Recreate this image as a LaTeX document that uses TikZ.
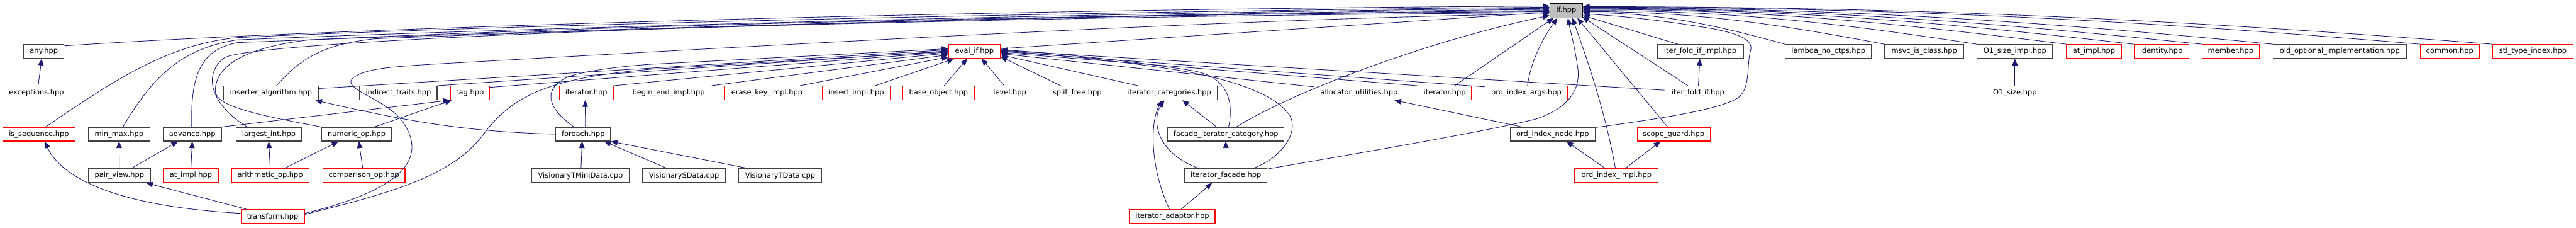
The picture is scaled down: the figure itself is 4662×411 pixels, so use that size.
\documentclass[tikz,border=0pt]{standalone}
\usepackage{fontspec}
\setmainfont{DejaVu Sans}
\usetikzlibrary{arrows.meta,calc}
\definecolor{edgec}{RGB}{25,25,112}
\definecolor{boxg}{RGB}{64,64,64}
\definecolor{boxr}{RGB}{255,0,0}
\definecolor{rootf}{RGB}{191,191,191}
\tikzset{
 nd/.style={draw, line width=1.3pt, fill=white, inner sep=0pt, minimum height=25pt, font=\fontsize{13}{15}\selectfont, text=black},
 gb/.style={nd, draw=boxg},
 rb/.style={nd, draw=boxr},
 rootbox/.style={nd, draw=black, fill=rootf, minimum height=26pt},
 e/.style={draw=edgec, line width=1pt, -{Triangle[length=12pt,width=10pt]}},
}
\begin{document}
\begin{tikzpicture}[x=1pt,y=-1pt]
\useasboundingbox (0,0) rectangle (4662,411);
% row 0
\node[rootbox, minimum width=59pt] (ifh) at (2834.5,19) {if.hpp};
% row 1
\node[gb, minimum width=73pt] (any) at (79.5,93) {any.hpp};
\node[rb, minimum width=93pt] (evalif) at (1763.5,93) {eval\_if.hpp};
\node[gb, minimum width=156pt] (ifimpl) at (3077,93) {iter\_fold\_if\_impl.hpp};
\node[gb, minimum width=156pt] (lambda) at (3309,93) {lambda\_no\_ctps.hpp};
\node[gb, minimum width=143pt] (msvc) at (3482.5,93) {msvc\_is\_class.hpp};
\node[gb, minimum width=137pt] (osimpl) at (3646.5,93) {O1\_size\_impl.hpp};
\node[rb, minimum width=99pt] (atimplb) at (3789.5,93) {at\_impl.hpp};
\node[rb, minimum width=99pt] (identity) at (3911.5,93) {identity.hpp};
\node[rb, minimum width=104pt] (member) at (4037,93) {member.hpp};
\node[gb, minimum width=241pt] (oldopt) at (4234.5,93) {old\_optional\_implementation.hpp};
\node[rb, minimum width=107pt] (common) at (4433.5,93) {common.hpp};
\node[rb, minimum width=146pt] (stl) at (4584,93) {stl\_type\_index.hpp};
% row 2
\node[rb, minimum width=122pt] (exceptions) at (66,168) {exceptions.hpp};
\node[gb, minimum width=171pt] (inserter) at (490.5,168) {inserter\_algorithm.hpp};
\node[gb, minimum width=140pt] (indirect) at (721,168) {indirect\_traits.hpp};
\node[rb, minimum width=71pt] (tag) at (850.5,168) {tag.hpp};
\node[rb, minimum width=98pt] (iterA) at (1061,168) {iterator.hpp};
\node[rb, minimum width=154pt] (beginend) at (1210,168) {begin\_end\_impl.hpp};
\node[rb, minimum width=152pt] (erasekey) at (1388,168) {erase\_key\_impl.hpp};
\node[rb, minimum width=123pt] (insertimpl) at (1549.5,168) {insert\_impl.hpp};
\node[rb, minimum width=129pt] (baseobj) at (1698.5,168) {base\_object.hpp};
\node[rb, minimum width=83pt] (level) at (1827.5,168) {level.hpp};
\node[rb, minimum width=111pt] (splitfree) at (1949.5,168) {split\_free.hpp};
\node[gb, minimum width=174pt] (itercat) at (2116,168) {iterator\_categories.hpp};
\node[rb, minimum width=163pt] (alloc) at (2459.5,168) {allocator\_utilities.hpp};
\node[rb, minimum width=97pt] (iterB) at (2614.5,168) {iterator.hpp};
\node[rb, minimum width=149pt] (ordargs) at (2762.5,168) {ord\_index\_args.hpp};
\node[rb, minimum width=120pt] (iterfoldif) at (3073,168) {iter\_fold\_if.hpp};
\node[rb, minimum width=101pt] (osize) at (3646.5,168) {O1\_size.hpp};
% row 3
\node[rb, minimum width=131pt] (isseq) at (70.5,242.5) {is\_sequence.hpp};
\node[gb, minimum width=111pt] (minmax) at (215.5,242.5) {min\_max.hpp};
\node[gb, minimum width=106pt] (advance) at (348,242.5) {advance.hpp};
\node[gb, minimum width=119pt] (largest) at (486.5,242.5) {largest\_int.hpp};
\node[gb, minimum width=127pt] (numop) at (645.5,242.5) {numeric\_op.hpp};
\node[gb, minimum width=99pt] (foreach) at (1055.5,242.5) {foreach.hpp};
\node[gb, minimum width=211pt] (facadecat) at (2218.5,242.5) {facade\_iterator\_category.hpp};
\node[gb, minimum width=154pt] (ordnode) at (2810,242.5) {ord\_index\_node.hpp};
\node[rb, minimum width=132pt] (scope) at (3029,242.5) {scope\_guard.hpp};
% row 4
\node[gb, minimum width=112pt] (pairview) at (216,317.5) {pair\_view.hpp};
\node[rb, minimum width=99pt] (atimpla) at (345.5,317.5) {at\_impl.hpp};
\node[rb, minimum width=140pt] (arith) at (489,317.5) {arithmetic\_op.hpp};
\node[rb, minimum width=149pt] (compop) at (658.5,317.5) {comparison\_op.hpp};
\node[gb, minimum width=177pt] (vtmini) at (1050.5,317.5) {VisionaryTMiniData.cpp};
\node[gb, minimum width=150pt] (vsdata) at (1238,317.5) {VisionarySData.cpp};
\node[gb, minimum width=150pt] (vtdata) at (1412,317.5) {VisionaryTData.cpp};
\node[gb, minimum width=149pt] (iterfacade) at (2218.5,317.5) {iterator\_facade.hpp};
\node[rb, minimum width=151pt] (ordimpl) at (2925.5,317.5) {ord\_index\_impl.hpp};
% row 5
\node[rb, minimum width=115pt] (transform) at (493.5,391.5) {transform.hpp};
\node[rb, minimum width=155pt] (iteradaptor) at (2121.5,391.5) {iterator\_adaptor.hpp};

% ---------- left cluster ----------
\draw[e] ($(exceptions.north)+(3,0)$) -- ($(any.south)+(-4,0)$);
\draw[e] (pairview.north) -- (minmax.south);
\draw[e] ($(pairview.north east)+(-35,0)$) -- ($(advance.south)+(-26,0)$);
\draw[e] (atimpla.north) -- (advance.south);
\draw[e] ($(transform.west)+(0,-6)$) .. controls (200,372) and (110,318) .. ($(isseq.south)+(10,0)$);
\draw[e] ($(transform.north west)+(12,0)$) -- ($(pairview.south east)+(-8,0)$);
\draw[e] (arith.north) -- (largest.south);
\draw[e] ($(arith.north east)+(-45,0)$) -- ($(numop.south)+(-33,0)$);
\draw[e] ($(compop.north)+(-2,0)$) -- ($(numop.south)+(4,0)$);
\draw[e] (advance.north east) -- (tag.south west);
\draw[e] ($(numop.north east)+(-32,0)$) -- ($(tag.south west)+(3,0)$);

% ---------- into if.hpp from the left ----------
\draw[e] ($(any.north east)+(0,3)$) .. controls (600,50) and (1800,16) .. ($(ifh.west)+(0,-8)$);
\draw[e] ($(isseq.north)+(12,0)$) .. controls (200,150) and (300,80) .. (430,68) .. controls (900,45) and (2000,20) .. ($(ifh.west)+(0,-6)$);
\draw[e] ($(minmax.north)+(7,0)$) .. controls (270,150) and (320,88) .. (430,72) .. controls (900,52) and (2000,22) .. ($(ifh.west)+(0,-4)$);
\draw[e] ($(advance.north)+(-1,0)$) .. controls (345,140) and (360,90) .. (430,77) .. controls (900,58) and (2000,24) .. ($(ifh.west)+(0,-2)$);
\draw[e] ($(largest.north west)+(21,0)$) .. controls (390,195) and (362,140) .. (405,105) .. controls (450,72) and (1500,32) .. ($(ifh.west)+(0,0)$);
\draw[e] (numop.north west) .. controls (420,200) and (385,185) .. (390,158) .. controls (395,115) and (450,85) .. (560,72) .. controls (1200,42) and (2000,26) .. ($(ifh.west)+(0,2)$);
\draw[e] ($(inserter.north)+(10,0)$) .. controls (540,110) and (580,80) .. (680,70) .. controls (1300,45) and (2100,27) .. ($(ifh.west)+(0,4)$);
\draw[e] ($(transform.east)+(0,-6)$) .. controls (740,340) and (775,280) .. (725,215) .. controls (690,175) and (615,160) .. (640,140) .. controls (665,122) and (720,120) .. (800,115) .. controls (1600,70) and (2300,32) .. ($(ifh.west)+(0,6)$);
\draw[e] ($(evalif.east)+(0,-5)$) -- ($(ifh.west)+(0,3)$);

% ---------- into eval_if ----------
\draw[e] ($(inserter.east)+(0,-8)$) -- ($(evalif.west)+(0,-3)$);
\draw[e] (indirect.north east) -- ($(evalif.west)+(0,-1)$);
\draw[e] ($(tag.north east)+(0,3)$) -- ($(evalif.west)+(0,1)$);
\draw[e] ($(transform.east)+(0,-4)$) .. controls (700,350) and (820,320) .. (877,240) .. controls (930,170) and (1000,140) .. (1180,125) -- ($(evalif.west)+(0,0)$);
\draw[e] ($(foreach.north)+(-17,0)$) .. controls (990,195) and (980,160) .. (1030,138) .. controls (1060,128) and (1120,120) .. (1180,116) -- ($(evalif.west)+(0,-5)$);
\draw[e] (iterA.north east) -- ($(evalif.west)+(0,3)$);
\draw[e] (beginend.north east) -- ($(evalif.west)+(0,6)$);
\draw[e] ($(erasekey.north east)+(-17,0)$) -- ($(evalif.west)+(0,10)$);
\draw[e] ($(insertimpl.north east)+(-28,0)$) -- ($(evalif.south west)+(10,0)$);
\draw[e] ($(baseobj.north)+(10,0)$) -- ($(evalif.south)+(-13,0)$);
\draw[e] ($(level.north)+(-10,0)$) -- ($(evalif.south)+(13,0)$);
\draw[e] ($(splitfree.north)+(-30,0)$) -- ($(evalif.south east)+(0,-4)$);
\draw[e] ($(itercat.north west)+(31,0)$) -- ($(evalif.east)+(0,6)$);
\draw[e] ($(alloc.north west)+(0,2)$) -- ($(evalif.east)+(0,4)$);
\draw[e] (iterB.north west) -- ($(evalif.east)+(0,2)$);
\draw[e] ($(ordargs.north west)+(0,2)$) -- ($(evalif.east)+(0,0)$);
\draw[e] ($(iterfoldif.west)+(0,-5)$) -- ($(evalif.east)+(0,-2)$);
\draw[e] ($(facadecat.north)+(5,0)$) .. controls (2235,175) and (2215,138) .. (2160,128) .. controls (2050,110) and (1900,95) .. ($(evalif.east)+(0,-3)$);
\draw[e] ($(iterfacade.north east)+(-26,0)$) .. controls (2320,285) and (2350,240) .. (2335,210) .. controls (2310,170) and (2230,145) .. (2150,130) .. controls (2050,112) and (1900,98) .. ($(evalif.east)+(0,-1)$);

% ---------- foreach group ----------
\draw[e] ($(foreach.north)+(4,0)$) -- ($(iterA.south)+(-2,0)$);
\draw[e] (foreach.west) .. controls (860,238) and (760,225) .. ($(inserter.south east)+(-6,0)$);
\draw[e] ($(vtmini.north)+(1,0)$) -- ($(foreach.south)+(-2,0)$);
\draw[e] ($(vsdata.north west)+(45,0)$) -- ($(foreach.south east)+(-12,0)$);
\draw[e] ($(vtdata.north west)+(18,0)$) -- (foreach.south east);

% ---------- iterator group ----------
\draw[e] ($(facadecat.north)+(-17,0)$) -- ($(itercat.south)+(24,0)$);
\draw[e] ($(iterfacade.north west)+(26,0)$) .. controls (2090,275) and (2085,215) .. ($(itercat.south)+(-9,0)$);
\draw[e] ($(iteradaptor.north)+(-5,0)$) .. controls (2080,300) and (2082,220) .. ($(itercat.south)+(-13,0)$);
\draw[e] (iterfacade.north) -- (facadecat.south);
\draw[e] ($(iteradaptor.north)+(16,0)$) -- ($(iterfacade.south)+(-25,0)$);
\draw[e] ($(facadecat.north)+(19,0)$) .. controls (2350,160) and (2600,70) .. ($(ifh.west)+(0,9)$);
\draw[e] ($(iterfacade.north east)+(0,1)$) .. controls (2500,270) and (2700,235) .. (2780,215) .. controls (2840,195) and (2862,160) .. (2855,120) .. controls (2850,85) and (2843,60) .. ($(ifh.south)+(3,0)$);

% ---------- into if.hpp from below ----------
\draw[e] ($(iterB.north east)+(-31,0)$) -- ($(ifh.south west)+(7,0)$);
\draw[e] ($(ordargs.north)+(2,0)$) .. controls (2770,110) and (2795,65) .. ($(ifh.south west)+(14,0)$);
\draw[e] ($(ordimpl.north)+(-2,0)$) .. controls (2905,200) and (2870,100) .. ($(ifh.south)+(11,0)$);
\draw[e] ($(scope.north)+(-11,0)$) -- ($(ifh.south east)+(-10,0)$);
\draw[e] ($(iterfoldif.north)+(-18,0)$) -- ($(ifh.south east)+(-1,-2)$);
\draw[e] (iterfoldif) -- (ifimpl);
\draw[e] ($(ifimpl.north west)+(38,0)$) -- ($(ifh.east)+(0,9)$);
\draw[e] ($(ordnode.north east)+(0,1)$) .. controls (3000,215) and (3100,200) .. (3140,180) .. controls (3170,165) and (3160,120) .. (3168,92) .. controls (3175,70) and (3140,60) .. (3100,52) .. controls (3000,35) and (2920,28) .. ($(ifh.east)+(0,6)$);
\draw[e] ($(ordnode.north west)+(22,0)$) -- ($(alloc.south east)+(-18,0)$);
\draw[e] ($(ordimpl.north west)+(56,0)$) -- ($(ordnode.south)+(25,0)$);
\draw[e] ($(ordimpl.north west)+(92,0)$) -- ($(scope.south)+(-24,0)$);

% ---------- into if.hpp from the right ----------
\draw[e] (lambda.north west) .. controls +(-110,-30) and +(150,0) .. ($(ifh.east)+(0,4)$);
\draw[e] (msvc.north west) .. controls +(-160,-30) and +(220,0) .. ($(ifh.east)+(0,2)$);
\draw[e] (osimpl.north west) .. controls +(-210,-32) and +(290,0) .. ($(ifh.east)+(0,0)$);
\draw[e] (atimplb.north west) .. controls +(-260,-32) and +(350,0) .. ($(ifh.east)+(0,-2)$);
\draw[e] (identity.north west) .. controls +(-300,-34) and +(400,0) .. ($(ifh.east)+(0,-3)$);
\draw[e] (member.north west) .. controls +(-330,-34) and +(450,0) .. ($(ifh.east)+(0,-4)$);
\draw[e] (oldopt.north west) .. controls +(-370,-36) and +(500,0) .. ($(ifh.east)+(0,-5)$);
\draw[e] (common.north west) .. controls +(-450,-38) and +(600,0) .. ($(ifh.east)+(0,-6)$);
\draw[e] (stl.north west) .. controls +(-490,-38) and +(660,0) .. ($(ifh.east)+(0,-7)$);
\draw[e] (osize) -- (osimpl);
\end{tikzpicture}
\end{document}
